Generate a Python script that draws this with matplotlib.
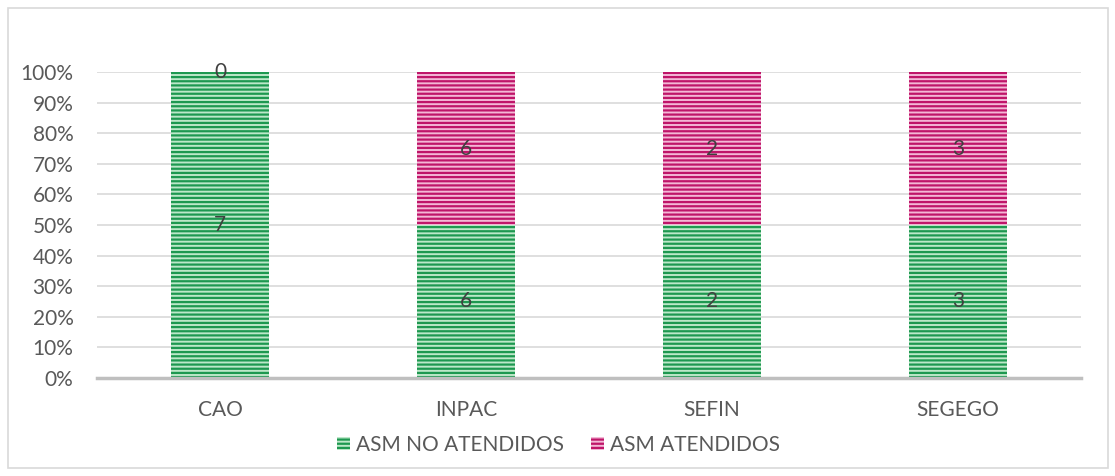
import matplotlib
matplotlib.use("Agg")
import matplotlib.pyplot as plt
from matplotlib.patches import Rectangle, Patch
import numpy as np

categories = ["CAO", "INPAC", "SEFIN", "SEGEGO"]
no_atendidos = [7, 6, 2, 3]
atendidos = [0, 6, 2, 3]
series_names = ["ASM NO ATENDIDOS", "ASM ATENDIDOS"]
yticks = [0, 10, 20, 30, 40, 50, 60, 70, 80, 90, 100]

plt.rcParams['font.family'] = ['Lato', 'DejaVu Sans']
plt.rcParams['hatch.linewidth'] = 1.6

green_face, green_hatch = '#bde8c9', '#1e9850'
pink_face, pink_hatch = '#f3b8d6', '#bf1569'
txt = '#595959'

fig = plt.figure(figsize=(11.15, 4.76), dpi=100)
ax = fig.add_axes([0.087, 0.2059, 0.8825, 0.6428])

na = np.array(no_atendidos, float)
at = np.array(atendidos, float)
tot = na + at
p_na = na / tot * 100
p_at = at / tot * 100
x = np.arange(len(categories))
w = 0.4

ax.bar(x, p_na, w, color=green_face, edgecolor=green_hatch, hatch='----', linewidth=0, zorder=2)
ax.bar(x, p_at, w, bottom=p_na, color=pink_face, edgecolor=pink_hatch, hatch='----', linewidth=0, zorder=2)

for i in range(len(categories)):
    ax.text(x[i], p_na[i] / 2, f"{no_atendidos[i]}", ha='center', va='center', fontsize=15, color='#404040', zorder=3)
    ax.text(x[i], p_na[i] + p_at[i] / 2, f"{atendidos[i]}", ha='center', va='center', fontsize=15, color='#404040', zorder=3)

ax.set_xlim(-0.5, len(categories) - 0.5)
ax.set_ylim(0, 100)
ax.set_yticks(yticks)
ax.set_yticklabels([f"{t}%" for t in yticks])
ax.set_xticks(x)
ax.set_xticklabels(categories)
ax.tick_params(axis='both', length=0, labelsize=15, colors=txt)
ax.tick_params(axis='y', pad=17)
ax.tick_params(axis='x', pad=16)
ax.yaxis.grid(True, color='#d9d9d9', linewidth=1.2, zorder=0)
ax.set_axisbelow(True)
for s in ['top', 'right', 'left']:
    ax.spines[s].set_visible(False)
ax.spines['bottom'].set_color('#bfbfbf')
ax.spines['bottom'].set_linewidth(2.5)
ax.spines['bottom'].set_zorder(3)

handles = [Patch(facecolor=green_face, edgecolor=green_hatch, hatch='----', linewidth=0),
           Patch(facecolor=pink_face, edgecolor=pink_hatch, hatch='----', linewidth=0)]
fig.legend(handles, series_names, loc='center', bbox_to_anchor=(0.501, 0.066), ncol=2,
           frameon=False, fontsize=15, labelcolor=txt, handlelength=0.62, handleheight=0.62,
           handletextpad=0.3, columnspacing=1.3)

fig.patches.append(Rectangle((8 / 1115, 8 / 476), 1100 / 1115, 460 / 476, transform=fig.transFigure,
                             fill=False, edgecolor='#d9d9d9', linewidth=1.2))

fig.savefig("out.png", dpi=100)
